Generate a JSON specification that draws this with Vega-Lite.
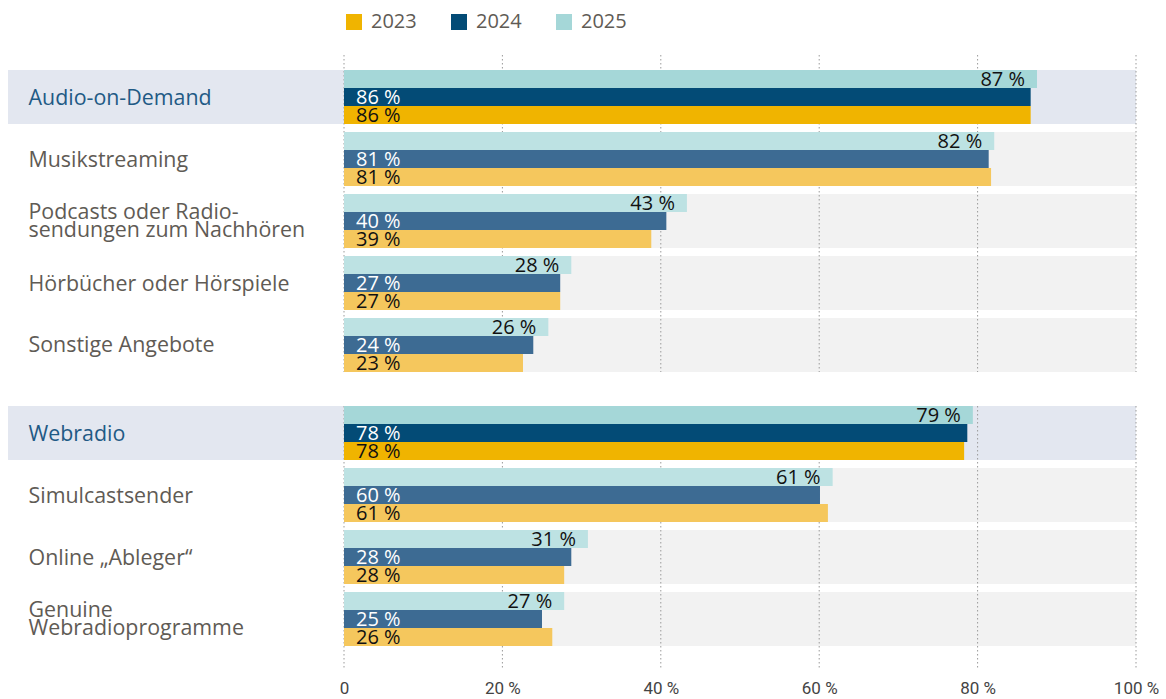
{
  "$schema": "https://vega.github.io/schema/vega-lite/v6.json",
  "background": "white",
  "padding": {"left": 8, "top": 12, "right": 30, "bottom": 0},
  "config": {"view": {"stroke": null}, "font": "Open Sans"},
  "data": {"values": [
    {"group": "AoD", "cat": "Audio-on-Demand", "level": "main", "year": "2023", "value": 86.7, "label": 86},
    {"group": "AoD", "cat": "Audio-on-Demand", "level": "main", "year": "2024", "value": 86.7, "label": 86},
    {"group": "AoD", "cat": "Audio-on-Demand", "level": "main", "year": "2025", "value": 87.5, "label": 87},
    {"group": "AoD", "cat": "Musikstreaming", "level": "sub", "year": "2023", "value": 81.7, "label": 81},
    {"group": "AoD", "cat": "Musikstreaming", "level": "sub", "year": "2024", "value": 81.4, "label": 81},
    {"group": "AoD", "cat": "Musikstreaming", "level": "sub", "year": "2025", "value": 82.1, "label": 82},
    {"group": "AoD", "cat": "Podcasts oder Radiosendungen zum Nachhören", "level": "sub", "year": "2023", "value": 38.8, "label": 39},
    {"group": "AoD", "cat": "Podcasts oder Radiosendungen zum Nachhören", "level": "sub", "year": "2024", "value": 40.7, "label": 40},
    {"group": "AoD", "cat": "Podcasts oder Radiosendungen zum Nachhören", "level": "sub", "year": "2025", "value": 43.3, "label": 43},
    {"group": "AoD", "cat": "Hörbücher oder Hörspiele", "level": "sub", "year": "2023", "value": 27.3, "label": 27},
    {"group": "AoD", "cat": "Hörbücher oder Hörspiele", "level": "sub", "year": "2024", "value": 27.3, "label": 27},
    {"group": "AoD", "cat": "Hörbücher oder Hörspiele", "level": "sub", "year": "2025", "value": 28.7, "label": 28},
    {"group": "AoD", "cat": "Sonstige Angebote", "level": "sub", "year": "2023", "value": 22.6, "label": 23},
    {"group": "AoD", "cat": "Sonstige Angebote", "level": "sub", "year": "2024", "value": 23.9, "label": 24},
    {"group": "AoD", "cat": "Sonstige Angebote", "level": "sub", "year": "2025", "value": 25.8, "label": 26},
    {"group": "Web", "cat": "Webradio", "level": "main", "year": "2023", "value": 78.3, "label": 78},
    {"group": "Web", "cat": "Webradio", "level": "main", "year": "2024", "value": 78.7, "label": 78},
    {"group": "Web", "cat": "Webradio", "level": "main", "year": "2025", "value": 79.4, "label": 79},
    {"group": "Web", "cat": "Simulcastsender", "level": "sub", "year": "2023", "value": 61.1, "label": 61},
    {"group": "Web", "cat": "Simulcastsender", "level": "sub", "year": "2024", "value": 60.1, "label": 60},
    {"group": "Web", "cat": "Simulcastsender", "level": "sub", "year": "2025", "value": 61.7, "label": 61},
    {"group": "Web", "cat": "Online „Ableger“", "level": "sub", "year": "2023", "value": 27.8, "label": 28},
    {"group": "Web", "cat": "Online „Ableger“", "level": "sub", "year": "2024", "value": 28.7, "label": 28},
    {"group": "Web", "cat": "Online „Ableger“", "level": "sub", "year": "2025", "value": 30.8, "label": 31},
    {"group": "Web", "cat": "Genuine Webradioprogramme", "level": "sub", "year": "2023", "value": 26.3, "label": 26},
    {"group": "Web", "cat": "Genuine Webradioprogramme", "level": "sub", "year": "2024", "value": 25.0, "label": 25},
    {"group": "Web", "cat": "Genuine Webradioprogramme", "level": "sub", "year": "2025", "value": 27.8, "label": 27}
  ]},
  "transform": [
    {"calculate": "datum.year + '-' + datum.level", "as": "key"},
    {"calculate": "datum.label + ' %'", "as": "txt"}
  ],
  "spacing": 31,
  "vconcat": [
    {
      "width": 792,
      "height": 317,
      "transform": [{"filter": "datum.group == 'AoD'"}],
      "layer": [
        {
          "transform": [{"filter": "datum.level == 'main' && datum.year == '2025'"}],
          "mark": {"type": "rect", "color": "#e3e7f0"},
          "encoding": {
            "y": {"field": "cat", "type": "nominal", "sort": null, "scale": {"paddingInner": 0.129, "paddingOuter": 0.121, "align": 1},
              "axis": {"title": null, "domain": false, "ticks": false, "tickSize": 0, "labelAlign": "left", "labelPadding": 316, "labelFontSize": 21.4, "labelFont": "Open Sans", "labelLimit": 400, "labelLineHeight": 18,
                "labelOffset": {"condition": {"test": "datum.value == 'Podcasts oder Radiosendungen zum Nachhören' || datum.value == 'Genuine Webradioprogramme'", "value": -8}, "value": 1.5},
                "labelColor": {"condition": {"test": "datum.value == 'Audio-on-Demand' || datum.value == 'Webradio'", "value": "#1f5a85"}, "value": "#5f5b55"},
                "labelExpr": "datum.value == 'Podcasts oder Radiosendungen zum Nachhören' ? ['Podcasts oder Radio-', 'sendungen zum Nachhören'] : datum.value == 'Genuine Webradioprogramme' ? ['Genuine', 'Webradioprogramme'] : datum.label"}},
            "x": {"datum": -42.42, "type": "quantitative", "scale": {"domain": [0, 100], "nice": false, "zero": false}, "axis": null},
            "x2": {"datum": 100}
          }
        },
        {
          "transform": [{"filter": "datum.level == 'sub' && datum.year == '2025'"}],
          "mark": {"type": "rect", "color": "#f2f2f2"},
          "encoding": {
            "y": {"field": "cat", "type": "nominal", "sort": null},
            "x": {"datum": 0, "type": "quantitative", "axis": null},
            "x2": {"datum": 100}
          }
        },
        {
          "data": {"values": [{"t": 0}, {"t": 20}, {"t": 40}, {"t": 60}, {"t": 80}, {"t": 100}]},
          "mark": {"type": "rule", "color": "#9a9a9a", "strokeDash": [1.5, 2.5], "strokeWidth": 1},
          "encoding": {"x": {"field": "t", "type": "quantitative", "axis": null}}
        },
        {
          "mark": {"type": "bar"},
          "encoding": {
            "y": {"field": "cat", "type": "nominal", "sort": null},
            "yOffset": {"field": "year", "type": "nominal", "sort": "descending", "scale": {"paddingInner": 0, "paddingOuter": 0}},
            "x": {"field": "value", "type": "quantitative", "axis": null},
            "color": {"field": "key", "type": "nominal",
              "scale": {"domain": ["2023-main", "2024-main", "2025-main", "2023-sub", "2024-sub", "2025-sub"], "range": ["#f0b400", "#034b76", "#a5d7d8", "#f5c75d", "#3d6b93", "#bde2e3"]},
              "legend": {"values": ["2023-main", "2024-main", "2025-main"], "labelExpr": "slice(datum.label, 0, 4)", "orient": "none", "legendX": 0, "legendY": -43, "direction": "horizontal", "title": null, "symbolType": "square", "symbolSize": 256, "symbolStrokeWidth": 0, "labelFontSize": 20, "labelFont": "Open Sans", "labelColor": "#5f5b55", "columnPadding": 32, "labelOffset": 7}}
          }
        },
        {
          "transform": [{"filter": "datum.year == '2025'"}],
          "mark": {"type": "text", "align": "right", "baseline": "middle", "dx": -12, "dy": 1, "fontSize": 20, "font": "Open Sans", "color": "#111111"},
          "encoding": {
            "y": {"field": "cat", "type": "nominal", "sort": null},
            "yOffset": {"field": "year", "type": "nominal", "sort": "descending"},
            "x": {"field": "value", "type": "quantitative", "axis": null},
            "text": {"field": "txt"}
          }
        },
        {
          "transform": [{"filter": "datum.year != '2025'"}],
          "mark": {"type": "text", "align": "left", "baseline": "middle", "dx": 12, "dy": 1, "fontSize": 20, "font": "Open Sans"},
          "encoding": {
            "y": {"field": "cat", "type": "nominal", "sort": null},
            "yOffset": {"field": "year", "type": "nominal", "sort": "descending"},
            "x": {"datum": 0, "type": "quantitative", "axis": null},
            "text": {"field": "txt"},
            "color": {"condition": {"test": "datum.year == '2024'", "value": "#ffffff"}, "value": "#111111"}
          }
        }
      ]
    },
    {
      "width": 792,
      "height": 262,
      "transform": [{"filter": "datum.group == 'Web'"}],
      "layer": [
        {
          "transform": [{"filter": "datum.level == 'main' && datum.year == '2025'"}],
          "mark": {"type": "rect", "color": "#e3e7f0"},
          "encoding": {
            "y": {"field": "cat", "type": "nominal", "sort": null, "scale": {"paddingInner": 0.129, "paddingOuter": 0.1774, "align": 0},
              "axis": {"title": null, "domain": false, "ticks": false, "tickSize": 0, "labelAlign": "left", "labelPadding": 316, "labelFontSize": 21.4, "labelFont": "Open Sans", "labelLimit": 400, "labelLineHeight": 18,
                "labelOffset": {"condition": {"test": "datum.value == 'Podcasts oder Radiosendungen zum Nachhören' || datum.value == 'Genuine Webradioprogramme'", "value": -8}, "value": 1.5},
                "labelColor": {"condition": {"test": "datum.value == 'Audio-on-Demand' || datum.value == 'Webradio'", "value": "#1f5a85"}, "value": "#5f5b55"},
                "labelExpr": "datum.value == 'Podcasts oder Radiosendungen zum Nachhören' ? ['Podcasts oder Radio-', 'sendungen zum Nachhören'] : datum.value == 'Genuine Webradioprogramme' ? ['Genuine', 'Webradioprogramme'] : datum.label"}},
            "x": {"datum": -42.42, "type": "quantitative", "scale": {"domain": [0, 100], "nice": false, "zero": false},
              "axis": {"title": null, "values": [0, 20, 40, 60, 80, 100], "labelExpr": "datum.value == 0 ? '0' : datum.value + ' %'", "grid": false, "domain": false, "ticks": false, "labelPadding": 12, "labelFontSize": 17, "labelFont": "Roboto", "labelFontWeight": "normal", "labelColor": "#444444", "labelFlush": false}},
            "x2": {"datum": 100}
          }
        },
        {
          "transform": [{"filter": "datum.level == 'sub' && datum.year == '2025'"}],
          "mark": {"type": "rect", "color": "#f2f2f2"},
          "encoding": {
            "y": {"field": "cat", "type": "nominal", "sort": null},
            "x": {"datum": 0, "type": "quantitative"},
            "x2": {"datum": 100}
          }
        },
        {
          "data": {"values": [{"t": 0}, {"t": 20}, {"t": 40}, {"t": 60}, {"t": 80}, {"t": 100}]},
          "mark": {"type": "rule", "color": "#9a9a9a", "strokeDash": [1.5, 2.5], "strokeWidth": 1},
          "encoding": {"x": {"field": "t", "type": "quantitative", "title": null}}
        },
        {
          "mark": {"type": "bar"},
          "encoding": {
            "y": {"field": "cat", "type": "nominal", "sort": null},
            "yOffset": {"field": "year", "type": "nominal", "sort": "descending", "scale": {"paddingInner": 0, "paddingOuter": 0}},
            "x": {"field": "value", "type": "quantitative", "title": null},
            "color": {"field": "key", "type": "nominal"}
          }
        },
        {
          "transform": [{"filter": "datum.year == '2025'"}],
          "mark": {"type": "text", "align": "right", "baseline": "middle", "dx": -12, "dy": 1, "fontSize": 20, "font": "Open Sans", "color": "#111111"},
          "encoding": {
            "y": {"field": "cat", "type": "nominal", "sort": null},
            "yOffset": {"field": "year", "type": "nominal", "sort": "descending"},
            "x": {"field": "value", "type": "quantitative", "title": null},
            "text": {"field": "txt"}
          }
        },
        {
          "transform": [{"filter": "datum.year != '2025'"}],
          "mark": {"type": "text", "align": "left", "baseline": "middle", "dx": 12, "dy": 1, "fontSize": 20, "font": "Open Sans"},
          "encoding": {
            "y": {"field": "cat", "type": "nominal", "sort": null},
            "yOffset": {"field": "year", "type": "nominal", "sort": "descending"},
            "x": {"datum": 0, "type": "quantitative"},
            "text": {"field": "txt"},
            "color": {"condition": {"test": "datum.year == '2024'", "value": "#ffffff"}, "value": "#111111"}
          }
        }
      ]
    }
  ]
}
